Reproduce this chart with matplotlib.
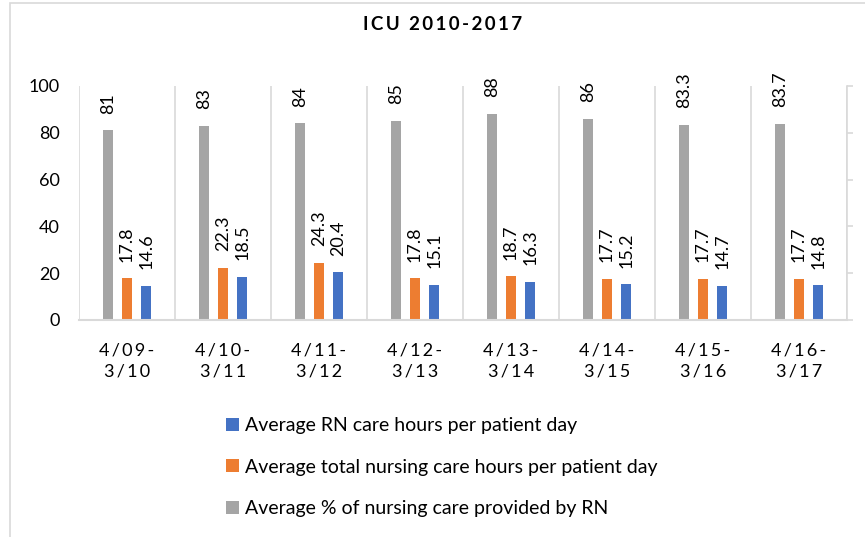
import matplotlib
matplotlib.use('Agg')
import matplotlib.pyplot as plt
import numpy as np
from matplotlib.patches import Rectangle

plt.rcParams['font.family'] = ['Lato', 'DejaVu Sans']

# data
periods = ['4/09-\n3/10', '4/10-\n3/11', '4/11-\n3/12', '4/12-\n3/13',
           '4/13-\n3/14', '4/14-\n3/15', '4/15-\n3/16', '4/16-\n3/17']
pct_rn = [81, 83, 84, 85, 88, 86, 83.3, 83.7]
total_hours = [17.8, 22.3, 24.3, 17.8, 18.7, 17.7, 17.7, 17.7]
rn_hours = [14.6, 18.5, 20.4, 15.1, 16.3, 15.2, 14.7, 14.8]

lab_pct = 'Average % of nursing care provided by RN'
lab_total = 'Average total nursing care hours per patient day'
lab_rn = 'Average RN care hours per patient day'


def spaced(s):
    # crude letter spacing, Excel style
    return '\n'.join('\u2009'.join(line) for line in s.split('\n'))


grid_col = '#d9d9d9'
fig = plt.figure(figsize=(8.65, 5.37), dpi=100)
ax = fig.add_axes([79 / 865, 1 - 320 / 537, 768 / 865, 234 / 537])

x = np.arange(len(periods))
w = 0.105
b_pct = ax.bar(x - 0.2, pct_rn, width=w, color='#a5a5a5', label=lab_pct)
b_tot = ax.bar(x, total_hours, width=w, color='#ed7d31', label=lab_total)
b_rn = ax.bar(x + 0.2, rn_hours, width=w, color='#4472c4', label=lab_rn)

for bars in (b_pct, b_tot, b_rn):
    ax.bar_label(bars, labels=[f'{v:g}' for v in bars.datavalues],
                 rotation=90, padding=12, fontsize=13)

ax.set_xlim(-0.5, len(periods) - 0.5)
ax.set_ylim(0, 100)
ax.set_yticks(np.arange(0, 101, 20))
ax.set_xticks(x)
ax.set_xticklabels([spaced(p) for p in periods], fontsize=13, linespacing=1.4)
ax.tick_params(axis='x', length=0, pad=16)
ax.tick_params(axis='y', length=0, pad=14, labelsize=13)

# vertical separators between the periods
ax.set_xticks(np.arange(-0.5, len(periods), 1), minor=True)
ax.grid(which='minor', axis='x', color=grid_col, lw=1.2)
ax.tick_params(which='minor', length=0)
ax.set_axisbelow(True)

for s in ['top', 'right', 'left']:
    ax.spines[s].set_visible(False)
ax.spines['bottom'].set_color(grid_col)
ax.spines['bottom'].set_linewidth(1.5)

# empty secondary axis on the right
ax2 = ax.twinx()
ax2.set_ylim(0, 100)
ax2.set_yticks(np.arange(0, 101, 20))
ax2.set_yticklabels([])
ax2.tick_params(axis='y', direction='out', length=4.5, color=grid_col, width=1.2)
for s in ['top', 'left', 'bottom']:
    ax2.spines[s].set_visible(False)
ax2.spines['right'].set_color(grid_col)
ax2.spines['right'].set_linewidth(1.2)

fig.text(443 / 865, 1 - 24 / 537, spaced('ICU 2010-2017'), ha='center', va='center',
         fontsize=13.5, fontweight='bold')

handles = [b_rn, b_tot, b_pct]
fig.legend(handles, [lab_rn, lab_total, lab_pct], loc='upper left',
           bbox_to_anchor=(226 / 865, 1 - 417 / 537), frameon=False,
           fontsize=14, borderpad=0, borderaxespad=0, labelspacing=1.27,
           handlelength=0.65, handleheight=0.65, handletextpad=0.35)

fig.add_artist(Rectangle((10 / 865, -0.1), 1.0, 1 - 3 / 537 + 0.1,
                         transform=fig.transFigure, fill=False,
                         edgecolor=grid_col, lw=1.2))

fig.savefig('out.png', dpi=100)
